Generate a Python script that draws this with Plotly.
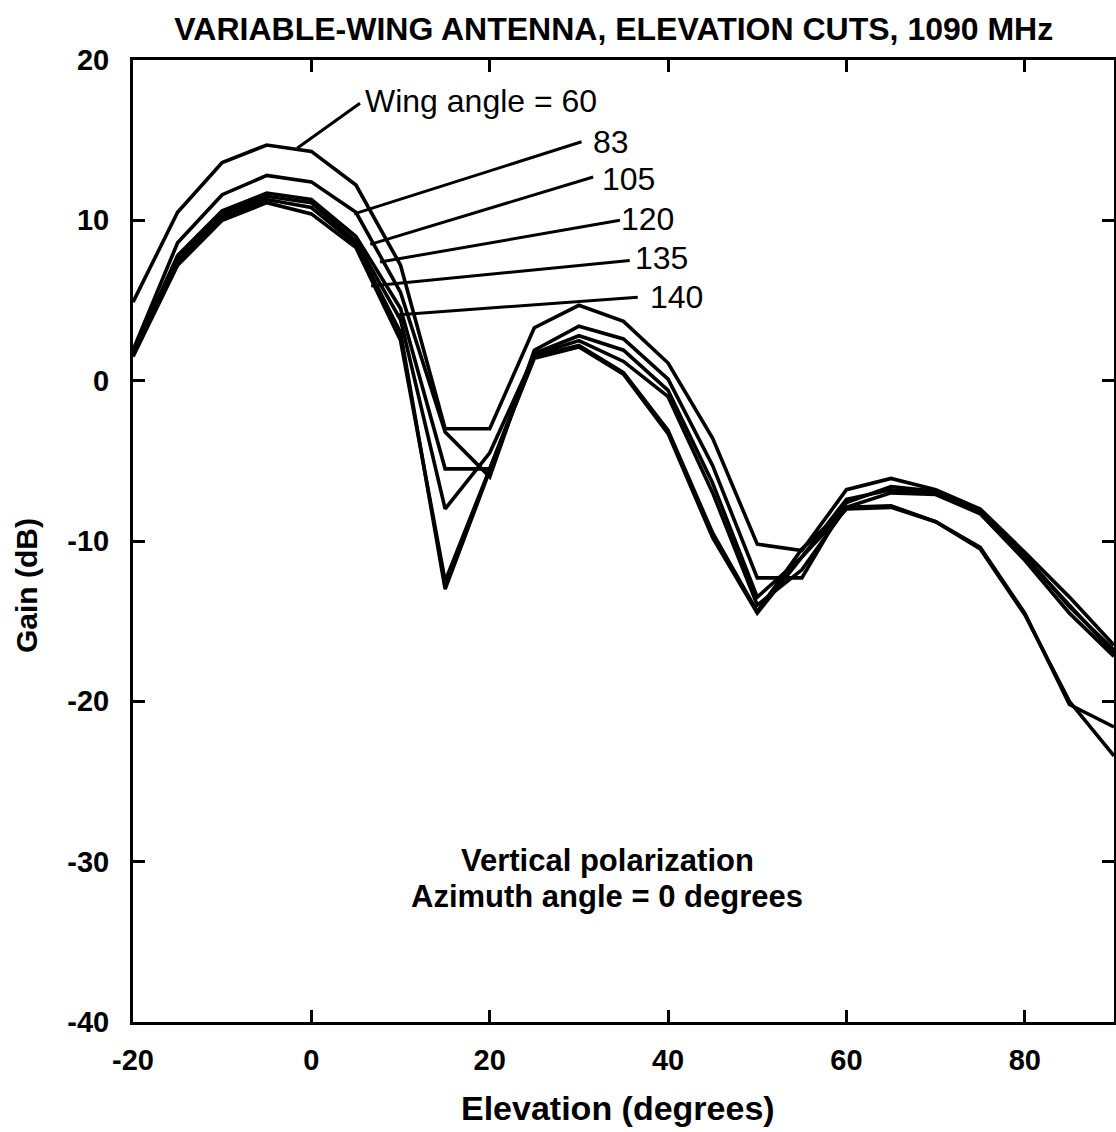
import plotly.graph_objects as go

elevation = [-20, -15, -10, -5, 0, 5, 10, 15, 20, 25, 30, 35, 40, 45, 50, 55, 60, 65, 70, 75, 80, 85, 90]

gain_60 = [4.9, 10.5, 13.6, 14.7, 14.3, 12.2, 7.2, -3.0, -3.0, 3.3, 4.7, 3.7, 1.1, -3.6, -10.2, -10.6, -6.8, -6.1, -6.8, -8.0, -10.7, -13.5, -16.5]
gain_83 = [1.9, 8.6, 11.6, 12.8, 12.4, 10.5, 5.5, -3.2, -6.0, 1.9, 3.4, 2.6, 0.1, -5.3, -12.3, -12.3, -7.6, -6.6, -6.9, -8.1, -10.9, -14.1, -16.8]
gain_105 = [1.7, 7.8, 10.6, 11.7, 11.3, 9.0, 4.5, -5.5, -5.5, 1.7, 2.8, 1.9, -0.6, -6.4, -13.5, -11.0, -7.4, -6.8, -7.0, -8.2, -11.0, -14.0, -17.0]
gain_120 = [1.6, 7.6, 10.4, 11.5, 11.1, 8.7, 3.8, -8.0, -4.5, 1.6, 2.5, 1.2, -1.0, -7.0, -14.0, -11.8, -7.9, -7.0, -7.1, -8.3, -11.2, -14.5, -17.2]
gain_135 = [1.6, 7.4, 10.2, 11.3, 10.8, 8.5, 3.0, -13.0, -5.6, 1.5, 2.2, 0.5, -3.1, -9.5, -14.4, -10.5, -7.9, -7.8, -8.8, -10.4, -14.5, -20.2, -21.6]
gain_140 = [1.5, 7.2, 10.0, 11.1, 10.4, 8.3, 2.5, -12.5, -5.5, 1.4, 2.1, 0.4, -3.3, -9.8, -14.5, -11.0, -8.0, -7.9, -8.8, -10.5, -14.6, -20.0, -23.4]

series = {"60": gain_60, "83": gain_83, "105": gain_105, "120": gain_120, "135": gain_135, "140": gain_140}

# curve labels with leader lines (data coordinates)
label_text = ["Wing angle = 60", "83", "105", "120", "135", "140"]
leader_start = [(-1.6, 14.5), (4.8, 10.4), (6.6, 8.5), (7.7, 7.4), (6.7, 5.9), (9.5, 4.1)]
leader_end = [(5.45, 17.3), (30.3, 14.9), (31.6, 12.7), (34.6, 10.0), (35.7, 7.5), (36.6, 5.2)]
label_pos = [(5.8, 17.45), (31.4, 14.87), (32.4, 12.6), (34.5, 10.1), (36.1, 7.67), (37.7, 5.22)]

note_lines = ["Vertical polarization", "Azimuth angle = 0 degrees"]
note_pos = [(33.2, -29.9), (33.2, -32.2)]

FONT = "Liberation Sans, Arial, Helvetica, sans-serif"

fig = go.Figure()
for name, vals in series.items():
    fig.add_trace(go.Scatter(x=elevation, y=vals, mode="lines", name=name,
                             line=dict(color="black", width=3.6), showlegend=False))

for text, (x0, y0), (x1, y1), (lx, ly) in zip(label_text, leader_start, leader_end, label_pos):
    fig.add_shape(type="line", xref="x", yref="y", x0=x0, y0=y0, x1=x1, y1=y1,
                  line=dict(color="black", width=3))
    fig.add_annotation(x=lx, y=ly, xref="x", yref="y", text=text, showarrow=False,
                       xanchor="left", yanchor="middle",
                       font=dict(family=FONT, size=32, color="black"))

for text, (nx, ny) in zip(note_lines, note_pos):
    fig.add_annotation(x=nx, y=ny, xref="x", yref="y", text="<b>" + text + "</b>",
                       showarrow=False, font=dict(family=FONT, size=31, color="black"))

# axis titles as positioned annotations
fig.add_annotation(x=(618 - 133) / 981, y=(1022 - 1108) / 962, xref="paper", yref="paper",
                   text="<b>Elevation (degrees)</b>", showarrow=False,
                   xanchor="center", yanchor="middle",
                   font=dict(family=FONT, size=34, color="black"))
fig.add_annotation(x=(26 - 133) / 981, y=(1022 - 586) / 962, xref="paper", yref="paper",
                   text="<b>Gain (dB)</b>", showarrow=False, textangle=-90,
                   xanchor="center", yanchor="middle",
                   font=dict(family=FONT, size=30, color="black"))

fig.update_layout(
    width=1116, height=1132,
    margin=dict(l=133, r=2, t=60, b=110),
    paper_bgcolor="white", plot_bgcolor="white",
    title=dict(text="<b>VARIABLE-WING ANTENNA, ELEVATION CUTS, 1090 MHz</b>",
               x=0.55, xanchor="center", y=0.975, yanchor="middle",
               font=dict(family=FONT, size=32, color="black")),
    font=dict(family=FONT, color="black"),
)

fig.update_xaxes(range=[-20, 90], tickmode="array", tickvals=[-20, 0, 20, 40, 60, 80],
                 ticktext=["<b>-20</b>", "<b>0</b>", "<b>20</b>", "<b>40</b>", "<b>60</b>", "<b>80</b>"],
                 ticks="inside", ticklen=12, tickwidth=2.5, tickcolor="black",
                 showline=True, linecolor="black", linewidth=3, mirror="ticks",
                 showgrid=False, zeroline=False, automargin=False,
                 tickfont=dict(family=FONT, size=29, color="black"),
                 ticklabelstandoff=10)
fig.update_yaxes(range=[-40, 20], tickmode="array", tickvals=[-40, -30, -20, -10, 0, 10, 20],
                 ticktext=["<b>-40</b>", "<b>-30</b>", "<b>-20</b>", "<b>-10</b>", "<b>0</b>", "<b>10</b>", "<b>20</b>"],
                 ticks="inside", ticklen=12, tickwidth=2.5, tickcolor="black",
                 showline=True, linecolor="black", linewidth=3, mirror="ticks",
                 showgrid=False, zeroline=False, automargin=False,
                 tickfont=dict(family=FONT, size=29, color="black"),
                 ticklabelstandoff=15)

fig.write_html("out.html", config={"displayModeBar": False})

# remove the default page margin so the figure sits at the window's top-left corner
with open("out.html", "r", encoding="utf-8") as f:
    html = f.read()
html = html.replace("<head>", "<head><style>html,body{margin:0;padding:0;overflow:hidden;}</style>", 1)
with open("out.html", "w", encoding="utf-8") as f:
    f.write(html)
